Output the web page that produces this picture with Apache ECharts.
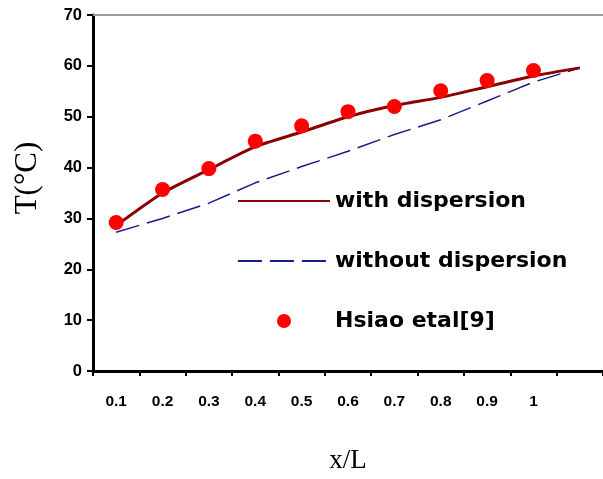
<!DOCTYPE html>
<html>
<head>
<meta charset="utf-8">
<script src="https://cdn.jsdelivr.net/npm/echarts@6/dist/echarts.min.js"></script>
<style>
  html, body { margin: 0; padding: 0; background: #fff; }
  #main { width: 603px; height: 479px; }
</style>
</head>
<body>
<div id="main"></div>
<script>
// x/L positions (last one only carries the end of the curves)
var categories = ['0.1', '0.2', '0.3', '0.4', '0.5', '0.6', '0.7', '0.8', '0.9', '1', '1.1'];

// temperatures
var withDispersion = [28.6, 35, 39.6, 44.1, 47, 50, 52.2, 53.8, 55.9, 58, 59.6];
var withoutDispersion = [27.3, 30, 33, 37, 40.2, 43.2, 46.5, 49.4, 53.1, 56.8, 59.6];
var hsiao = [29.2, 35.7, 39.8, 45.2, 48.2, 51, 52, 55.1, 57.1, 59.1, '-'];

var yTicks = [0, 10, 20, 30, 40, 50, 60, 70];

var myChart = echarts.init(document.getElementById('main'), null, {renderer: 'canvas'});

var option = {
    animation: false,
    backgroundColor: '#fff',
    grid: {
        left: 93,
        right: -5,
        top: 15,
        bottom: 107
    },
    legend: {
        orient: 'vertical',
        left: 237,
        top: 190,
        padding: 0,
        itemWidth: 92,
        itemHeight: 14,
        itemGap: 38,
        textStyle: {
            fontFamily: 'DejaVu Sans',
            fontWeight: 'bold',
            fontSize: 22,
            color: '#000'
        },
        data: [
            // hide the symbol in the line icons, keep the line
            {name: 'with dispersion', itemStyle: {opacity: 0}},
            {name: 'without dispersion', itemStyle: {opacity: 0}},
            {name: 'Hsiao etal[9]'}
        ]
    },
    xAxis: [{
        type: 'category',
        data: categories,
        boundaryGap: true,
        name: 'x/L',
        nameLocation: 'middle',
        nameGap: 76,
        nameTextStyle: {
            fontFamily: 'Liberation Serif',
            fontSize: 27,
            color: '#000'
        },
        axisLine: {lineStyle: {color: '#000', width: 3}},
        axisTick: {show: true, length: 5, lineStyle: {color: '#000', width: 2}},
        axisLabel: {
            margin: 23,
            fontFamily: 'Liberation Sans',
            fontWeight: 'bold',
            fontSize: 15.5,
            color: '#000',
            formatter: function (v) { return v === '1.1' ? '' : v; }
        },
        splitLine: {show: false}
    }, {
        type: 'category',
        data: categories,
        position: 'top',
        axisLine: {lineStyle: {color: '#999', width: 2}},
        axisTick: {show: false},
        axisLabel: {show: false},
        splitLine: {show: false}
    }],
    yAxis: {
        type: 'value',
        min: yTicks[0],
        max: yTicks[yTicks.length - 1],
        interval: 10,
        name: 'T(°C)',
        nameLocation: 'middle',
        nameGap: 50,
        nameTextStyle: {
            fontFamily: 'Liberation Serif',
            fontSize: 31,
            color: '#000',
            padding: [0, 0, 0, 30]
        },
        axisLine: {show: true, lineStyle: {color: '#000', width: 3}},
        axisTick: {show: true, length: 6, lineStyle: {color: '#000', width: 2}},
        axisLabel: {
            margin: 11,
            fontFamily: 'Liberation Sans',
            fontWeight: 'bold',
            fontSize: 16.5,
            color: '#000'
        },
        splitLine: {show: false}
    },
    series: [{
        name: 'with dispersion',
        type: 'line',
        data: withDispersion,
        symbol: 'none',
        smooth: 0.2,
        lineStyle: {color: '#8b0000', width: 3},
        itemStyle: {color: '#8b0000'},
        z: 3
    }, {
        name: 'without dispersion',
        type: 'line',
        data: withoutDispersion,
        symbol: 'none',
        lineStyle: {color: '#1a1a8c', width: 1.5, type: [24, 8]},
        itemStyle: {color: '#1a1a8c'},
        z: 2
    }, {
        name: 'Hsiao etal[9]',
        type: 'scatter',
        data: hsiao,
        symbol: 'circle',
        symbolSize: 15,
        itemStyle: {color: '#ff0000', opacity: 1},
        z: 4
    }]
};

myChart.setOption(option);
</script>
</body>
</html>
